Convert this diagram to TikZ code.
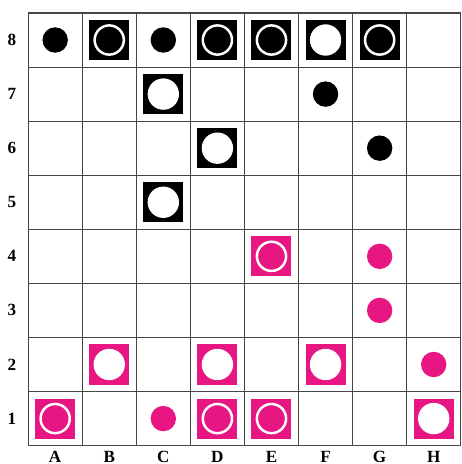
\documentclass[tikz,border=0pt]{standalone}
\usepackage{fontspec}
\setmainfont{Liberation Serif}
\usepackage{xcolor}
\usepackage{tikz}
\definecolor{piecepink}{RGB}{232,22,130}
\definecolor{gridgray}{RGB}{70,70,70}

\begin{document}
\begin{tikzpicture}[x=1cm,y=1cm,
  lbl/.style={font=\small\bfseries, inner sep=0pt},
  sq/.style={rectangle, minimum size=0.74cm, inner sep=0pt},
  dot/.style={circle, minimum size=0.47cm, inner sep=0pt},
  disc/.style={circle, fill=white, minimum size=0.58cm, inner sep=0pt},
  ring/.style={circle, draw=white, line width=1.3pt, minimum size=0.54cm, inner sep=0pt}]
  \useasboundingbox (-0.52,-0.34) rectangle (8.01,8.24);
  \draw[gridgray, line width=0.55pt] (0,0) grid (8,8);
  % cell centres and labels
  \foreach \l [count=\i] in {a,b,c,d,e,f,g,h}
    \foreach \r in {1,...,8}
      \coordinate (\l\r) at (\i-0.5,\r-0.5);
  \foreach \l [count=\i] in {A,B,C,D,E,F,G,H}
    \node[lbl] (col\l) at (\i-0.5,-0.21) {\l};
  \foreach \r in {1,...,8}
    \node[lbl] (row\r) at (-0.3,\r-0.5) {\r};
  % black pieces
  \foreach \p in {a8,c8,f7,g6}
    \node[dot, fill=black] (pc\p) at (\p) {};
  \foreach \p in {b8,d8,e8,g8} {
    \node[sq, fill=black] (pc\p) at (\p) {};
    \node[ring] (rg\p) at (pc\p) {};
  }
  \foreach \p in {f8,c7,d6,c5} {
    \node[sq, fill=black] (pc\p) at (\p) {};
    \node[disc] (dc\p) at (pc\p) {};
  }
  % pink pieces
  \foreach \p in {g4,g3,h2,c1}
    \node[dot, fill=piecepink] (pc\p) at (\p) {};
  \foreach \p in {e4,a1,d1,e1} {
    \node[sq, fill=piecepink] (pc\p) at (\p) {};
    \node[ring] (rg\p) at (pc\p) {};
  }
  \foreach \p in {b2,d2,f2,h1} {
    \node[sq, fill=piecepink] (pc\p) at (\p) {};
    \node[disc] (dc\p) at (pc\p) {};
  }
\end{tikzpicture}
\end{document}
